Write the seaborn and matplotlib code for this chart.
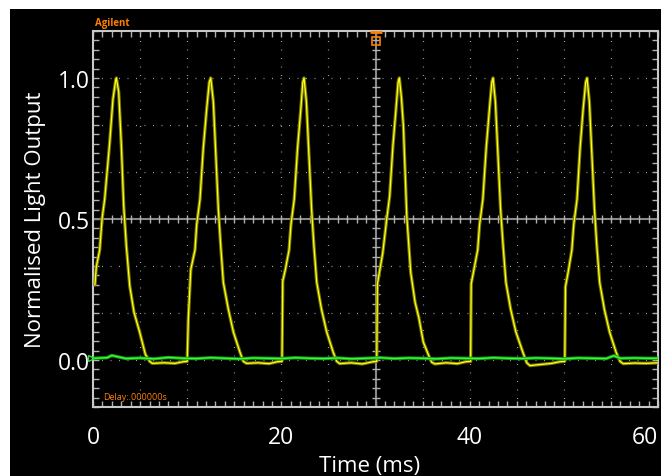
import numpy as np
import pandas as pd
import matplotlib.pyplot as plt
import seaborn as sns
from matplotlib.patches import Rectangle
from matplotlib.ticker import MultipleLocator

# Light output trace (yellow): time in ms, normalised level
pulse_time = [
    0.20, 0.35, 0.71, 0.96, 1.24, 1.77, 2.12, 2.40, 2.48, 2.73, 3.01, 3.26, 3.54, 3.90, 4.35, 4.96, 5.56, 6.02, 6.30, 7.50, 8.70, 9.60,
    10.00, 10.12, 10.38, 10.83, 11.01, 11.36, 11.71, 12.07, 12.35, 12.50, 12.78, 13.06, 13.31, 13.56, 13.84, 14.37, 14.90, 15.61, 15.96, 16.30, 17.50, 18.70, 19.60,
    20.07, 20.15, 20.42, 20.82, 21.02, 21.37, 21.72, 22.07, 22.28, 22.41, 22.66, 22.96, 23.21, 23.46, 23.76, 24.26, 24.81, 25.51, 25.88, 26.20, 27.40, 28.60, 29.60,
    30.13, 30.20, 30.41, 30.77, 31.19, 31.50, 31.85, 32.20, 32.40, 32.53, 32.75, 32.96, 33.32, 33.74, 34.20, 34.60, 35.08, 35.79, 35.97, 36.30, 37.50, 38.70, 39.60,
    40.10, 40.16, 40.45, 40.85, 41.05, 41.40, 41.75, 42.10, 42.35, 42.48, 42.73, 43.03, 43.28, 43.55, 43.85, 44.35, 44.90, 45.65, 46.06, 46.40, 47.60, 48.70, 49.60,
    50.10, 50.17, 50.45, 50.85, 51.05, 51.40, 51.72, 52.05, 52.32, 52.46, 52.71, 53.00, 53.25, 53.50, 53.80, 54.30, 54.85, 55.55, 55.97, 56.30, 57.50, 58.70, 60.00,
]
pulse_level = [
    0.266, 0.33, 0.39, 0.50, 0.57, 0.77, 0.925, 0.99, 1.00, 0.95, 0.76, 0.547, 0.405, 0.263, 0.17, 0.098, 0.02, -0.005, -0.012, -0.010, -0.012, -0.006,
    -0.005, 0.145, 0.32, 0.39, 0.48, 0.57, 0.75, 0.89, 0.985, 1.00, 0.915, 0.71, 0.535, 0.405, 0.275, 0.18, 0.10, 0.027, -0.005, -0.012, -0.010, -0.013, -0.006,
    -0.005, 0.28, 0.32, 0.39, 0.48, 0.57, 0.75, 0.89, 0.985, 1.00, 0.915, 0.71, 0.535, 0.405, 0.275, 0.18, 0.10, 0.027, -0.005, -0.013, -0.010, -0.014, -0.007,
    -0.005, 0.27, 0.31, 0.38, 0.50, 0.58, 0.76, 0.90, 0.985, 1.00, 0.93, 0.83, 0.51, 0.31, 0.205, 0.15, 0.063, 0.004, -0.008, -0.014, -0.010, -0.013, -0.006,
    -0.005, 0.27, 0.32, 0.39, 0.48, 0.57, 0.75, 0.89, 0.985, 1.00, 0.915, 0.71, 0.535, 0.405, 0.275, 0.18, 0.10, 0.027, -0.010, -0.020, -0.016, -0.012, -0.006,
    -0.005, 0.26, 0.31, 0.39, 0.48, 0.57, 0.75, 0.89, 0.985, 1.00, 0.915, 0.71, 0.535, 0.405, 0.275, 0.18, 0.10, 0.027, -0.005, -0.013, -0.011, -0.012, -0.010,
]

# Reference channel (green), almost flat near zero
ref_time = [0, 1.5, 2.0, 3.5, 5.0, 6.5, 8.0, 9.5, 11.0, 12.5, 14.0, 15.5, 17.0, 18.5, 20.0, 21.5, 23.0, 24.5, 26.0,
            27.5, 29.0, 30.5, 32.0, 33.5, 35.0, 36.5, 38.0, 39.5, 41.0, 42.5, 44.0, 45.5, 47.0, 48.5, 50.0, 51.5,
            53.0, 54.5, 55.3, 56.0, 57.5, 59.0, 60.0]
ref_level = [0.006, 0.008, 0.016, 0.005, 0.007, 0.004, 0.009, 0.006, 0.005, 0.008, 0.006, 0.004, 0.007, 0.006, 0.005,
             0.008, 0.006, 0.005, 0.007, 0.004, 0.006, 0.008, 0.005, 0.007, 0.006, 0.004, 0.007, 0.006, 0.005, 0.008,
             0.006, 0.005, 0.007, 0.006, 0.004, 0.007, 0.006, 0.005, 0.015, 0.006, 0.007, 0.006, 0.006]

x_ticks = [0, 20, 40, 60]
x_tick_labels = ["0", "20", "40", "60"]
y_ticks = [0.0, 0.5, 1.0]
y_tick_labels = ["0.0", "0.5", "1.0"]

trace = pd.DataFrame({"time": pulse_time, "level": pulse_level})
ref = pd.DataFrame({"time": ref_time, "level": ref_level})

sns.set_theme(style="dark")
plt.rcParams["font.family"] = ["Open Sans", "DejaVu Sans"]

fig = plt.figure(figsize=(6.61, 4.77), dpi=100)
fig.patch.set_facecolor("white")
fig.add_artist(Rectangle((10 / 661, 0), 1, 1 - 10 / 477, transform=fig.transFigure,
                         facecolor="black", edgecolor="none", zorder=-10))
ax = fig.add_axes([0.1407, 0.1447, 0.8548, 0.7883])
ax.set_facecolor("black")

xmin, xmax = 0, 60
ymin, ymax = -1 / 6, 7 / 6
ax.set_xlim(xmin, xmax)
ax.set_ylim(ymin, ymax)
ax.grid(False)

# dotted scope graticule
for gx in np.arange(5, 60, 5):
    if gx != 30:
        ax.axvline(gx, color="#9a9a9a", lw=0.9, ls=(0, (0.8, 6.0)), zorder=1)
for gy in np.arange(ymin + 1 / 6, ymax - 0.01, 1 / 6):
    if abs(gy - 0.5) > 0.01:
        ax.axhline(gy, color="#9a9a9a", lw=0.9, ls=(0, (0.8, 6.0)), zorder=1)

# centre cross hairs with small ticks
ax.axvline(30, color="#8a8a8a", lw=1.5, zorder=1)
ax.axhline(0.5, color="#8a8a8a", lw=1.5, zorder=1)
ax.plot(np.arange(1, 60, 1), np.full(59, 0.5), ls="none", marker="|", ms=6, mew=1, color="#b0b0b0", zorder=1)
ax.plot(np.full(39, 30), np.arange(ymin + 1 / 30, ymax - 0.001, 1 / 30), ls="none", marker="_", ms=6, mew=1,
        color="#b0b0b0", zorder=1)

# traces
sns.lineplot(data=trace, x="time", y="level", ax=ax, color="#7a7a00", lw=2.4, estimator=None, sort=False, zorder=3)
sns.lineplot(data=trace, x="time", y="level", ax=ax, color="#ffff1a", lw=0.9, estimator=None, sort=False, zorder=4)
sns.lineplot(data=ref, x="time", y="level", ax=ax, color="#1a9a1a", lw=2.4, estimator=None, sort=False, zorder=5)
sns.lineplot(data=ref, x="time", y="level", ax=ax, color="#33ff33", lw=1.0, estimator=None, sort=False, zorder=6)

# ground marker and trigger marker
ax.plot([-0.25], [0.006], marker=">", ms=4, mfc="none", mec="#33dd33", clip_on=False, zorder=7)
ax.plot([30], [ymax - 0.035], marker="s", ms=6, mfc="none", mec="#ff7f00", mew=1.2, clip_on=False, zorder=7)
ax.plot([30], [ymax - 0.002], marker="_", ms=8, mew=2, color="#ff7f00", clip_on=False, zorder=7)

for side in ["left", "right", "top", "bottom"]:
    ax.spines[side].set_visible(True)
    ax.spines[side].set_color("#c8c8c8")
    ax.spines[side].set_linewidth(1.5)

ax.set_xticks(x_ticks, labels=x_tick_labels)
ax.set_yticks(y_ticks, labels=y_tick_labels)
ax.xaxis.set_minor_locator(MultipleLocator(1))
ax.yaxis.set_minor_locator(MultipleLocator(1 / 30))
ax.tick_params(which="both", direction="in", length=4, width=1, color="#b0b0b0",
               top=True, right=True, bottom=True, left=True)
ax.tick_params(axis="x", which="major", labelsize=16.5, labelcolor="white", pad=13)
ax.tick_params(axis="y", which="major", labelsize=16.5, labelcolor="white", pad=2)
ax.xaxis.get_majorticklabels()[-1].set_horizontalalignment("right")

ax.set_xlabel("Time (ms)", color="white", fontsize=16)
ax.set_ylabel("Normalised Light Output", color="white", fontsize=16)
ax.xaxis.set_label_coords(0.49, -0.128)
ax.yaxis.set_label_coords(-0.083, 0.5)

fig.text(95 / 661, 1 - 26 / 477, "Agilent", color="#ff7f00", fontsize=7, fontweight="bold")
ax.text(1.1, -0.131, "Delay:.000000s", color="#ff7f00", fontsize=6.5, va="center")

fig.savefig("out.png", dpi=100, facecolor=fig.get_facecolor())
